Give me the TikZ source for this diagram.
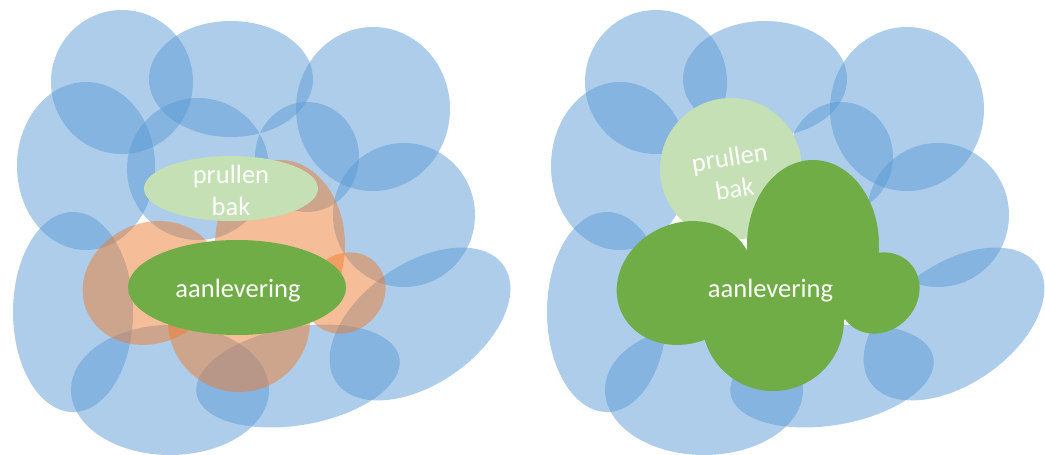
\documentclass[tikz,border=0pt]{standalone}
\usepackage{fontspec}
\setmainfont{Carlito}
\definecolor{blobblue}{RGB}{91,155,213}
\definecolor{lobeorange}{RGB}{237,125,49}
\definecolor{leafgreen}{RGB}{112,173,71}
\definecolor{palegreen}{RGB}{197,224,180}

\begin{document}
\begin{tikzpicture}[x=1pt, y=-1pt,
  blob/.style={fill=blobblue, fill opacity=0.5},
  lobe/.style={fill=lobeorange, fill opacity=0.5},
  word/.style={text=white, font=\fontsize{26.5}{32.3}\selectfont, inner sep=0pt, align=center}]
  \useasboundingbox (0,0) rectangle (1045,455);

  % Blue blobs: the same cloud in both halves
  \foreach \dx in {0, 534} {
    \foreach \cx/\cy/\rx/\ry/\rot in {122/82/71/72/0, 231/79/82/58/0, 373/109/77/82/0,
        86/166/69/84/0, 307/157/52/55/0, 404/215/71/72/0, 420/324/102/60/35,
        73/312/60/100/0, 170/390/99/65/0, 298/376/103/49/10} {
      \fill[blob, shift={({\cx+\dx},\cy)}, rotate=\rot] (0,0) ellipse [x radius=\rx, y radius=\ry];
    }
  }
  % Middle blob, only seen on the left
  \fill[blob] (198,169) circle [radius=71];

  % Left: orange lobes round the delivery
  \foreach \cx/\cy/\rx/\ry/\rot in {151/283/70/60/25, 280/245/65/85/0,
      239/321/71/71/0, 345/293/43/38/45} {
    \fill[lobe, shift={(\cx,\cy)}, rotate=\rot] (0,0) ellipse [x radius=\rx, y radius=\ry];
  }
  \fill[palegreen] (231,188.5) ellipse [x radius=87, y radius=32.5];
  \fill[leafgreen] (237,287.5) ellipse [x radius=109, y radius=47.5];
  \node[word] (binL) at (231,190.5) {prullen\\bak};
  \node[word, anchor=base] (deliveryL) at (238,297) {aanlevering};

  % Right: bin as a circle, delivery as one green cloud
  \fill[palegreen] (731,169) circle [radius=71];
  \foreach \cx/\cy/\rx/\ry/\rot in {685/283/70/60/25, 813/245/66/85/0,
      773/320/71/71/0, 879/293/43/38/45} {
    \fill[leafgreen, shift={(\cx,\cy)}, rotate=\rot] (0,0) ellipse [x radius=\rx, y radius=\ry];
  }
  \node[word, rotate=9] (binR) at (732,173) {prullen\\bak};
  \node[word, anchor=base] (deliveryR) at (770.5,297) {aanlevering};
\end{tikzpicture}
\end{document}
